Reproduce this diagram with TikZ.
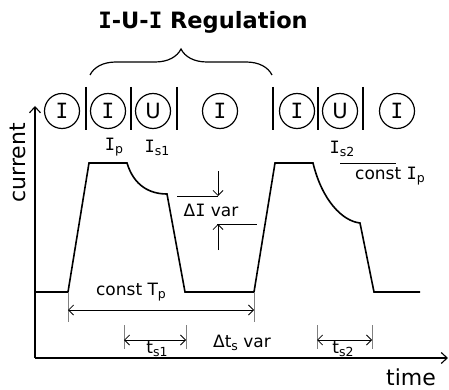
\documentclass[tikz,border=0pt]{standalone}
\usepackage{fontspec}
\setmainfont{DejaVu Sans}
\newfontfamily\monoI{DejaVu Sans Mono}
\usetikzlibrary{arrows.meta,decorations.pathreplacing}
\newcommand{\lsub}[1]{\raisebox{-0.3ex}{\fontsize{12.5}{12.5}\selectfont #1}}
\newcommand{\sI}{{\monoI I}}
\begin{document}
\begin{tikzpicture}[x=1pt,y=-1pt,
 wave/.style={line width=1.6pt, line join=miter},
 axis/.style={line width=1.6pt,-{Straight Barb[length=6pt,width=11pt,line width=1.1pt]}},
 ph/.style={circle,draw,line width=1.2pt,minimum size=35pt,inner sep=0pt,font=\fontsize{21}{22}\selectfont},
 bar/.style={line width=1.3pt},
 lbl/.style={font=\fontsize{17}{18}\selectfont,inner sep=0pt},
 big/.style={font=\fontsize{22}{24}\selectfont,inner sep=0pt},
 ext/.style={line width=0.8pt,draw=gray},
 dim/.style={line width=0.8pt,{Straight Barb[length=5pt,width=10pt]}-{Straight Barb[length=5pt,width=10pt]}},
 sarr/.style={line width=0.8pt,-{Straight Barb[length=5pt,width=10pt]}},
]
\useasboundingbox (0,0) rectangle (449,390);
% title and brace
\node[font=\fontsize{22.5}{24}\selectfont\bfseries,inner sep=0pt] (title) at (203,22) {\sI-U-\sI{} Regulation};
\coordinate (bl) at (90,75);
\coordinate (br) at (272,75);
\draw[line width=1.2pt,decorate,decoration={brace,amplitude=26pt}] (bl) -- (br);
% phase circles
\node[ph] (c1) at (62,111) {\sI};
\node[ph] (c2) at (108,111) {\sI};
\node[ph] (c3) at (153,111) {U};
\node[ph] (c4) at (220,111) {\sI};
\node[ph] (c5) at (297,111) {\sI};
\node[ph] (c6) at (340,111) {U};
\node[ph] (c7) at (397,111) {\sI};
\foreach \x in {86,131,177,273,318,363}{\draw[bar] (\x,87) -- (\x,130);}
% axes
\coordinate (O) at (35,358);
\coordinate (Ytop) at (35,106);
\coordinate (Xend) at (448,358);
\draw[axis] (O) -- (Ytop);
\draw[axis] (O) -- (Xend);
\node[big,rotate=90] (cur) at (18,163) {current};
\node[big] (time) at (411,377) {time};
% waveform
\draw[wave] (35,292) -- (68,292) -- (89,163) -- (127,163)
  .. controls (134,186) and (150,194) .. (167,194) -- (185,292) -- (254,292)
  -- (275,163) -- (313,163) .. controls (322,200) and (342,221) .. (360,223)
  -- (374,292) -- (420,292);
% labels
\node[lbl] (Ip) at (114,147) {\sI\lsub{p}};
\node[lbl] (Is1) at (157,148) {\sI\lsub{s1}};
\node[lbl] (Is2) at (342,149) {\sI\lsub{s2}};
\coordinate (fl) at (340,163);
\coordinate (fr) at (396,163);
\draw[line width=0.8pt] (fl) -- (fr);
\node[lbl] (cIp) at (390,176) {const \sI\lsub{p}};
% Delta I
\coordinate (a1) at (177,196);
\coordinate (a2) at (218,196);
\coordinate (a0) at (218,171);
\draw[line width=0.8pt] (a1) -- (a2);
\draw[sarr] (a0) -- (a2);
\node[lbl] (dI) at (211,210) {Δ\sI{} var};
\coordinate (b1) at (217,224);
\coordinate (b2) at (257,224);
\coordinate (b0) at (218,250);
\draw[line width=0.8pt] (b1) -- (b2);
\draw[sarr] (b0) -- (218,224);
% const Tp
\coordinate (t1) at (68,292);
\coordinate (t1b) at (68,322);
\coordinate (t2) at (254,292);
\coordinate (t2b) at (254,322);
\draw[ext] (t1) -- (t1b);
\draw[ext] (t2) -- (t2b);
\draw[dim] (68,310) -- (254,310);
\node[lbl] (cTp) at (131,292) {const T\lsub{p}};
% ts1
\coordinate (s1a) at (124,325);
\coordinate (s1b) at (186,325);
\draw[ext] (s1a) -- (124,349);
\draw[ext] (s1b) -- (186,349);
\draw[dim] (124,340) -- (186,340);
\node[lbl] (ts1) at (157,349) {t\lsub{s1}};
\node[lbl] (dts) at (242,343) {Δt\lsub{s} var};
% ts2
\coordinate (s2a) at (317,325);
\coordinate (s2b) at (372,325);
\draw[ext] (s2a) -- (317,349);
\draw[ext] (s2b) -- (372,349);
\draw[dim] (317,340) -- (372,340);
\node[lbl] (ts2) at (343,349) {t\lsub{s2}};
\end{tikzpicture}
\end{document}
